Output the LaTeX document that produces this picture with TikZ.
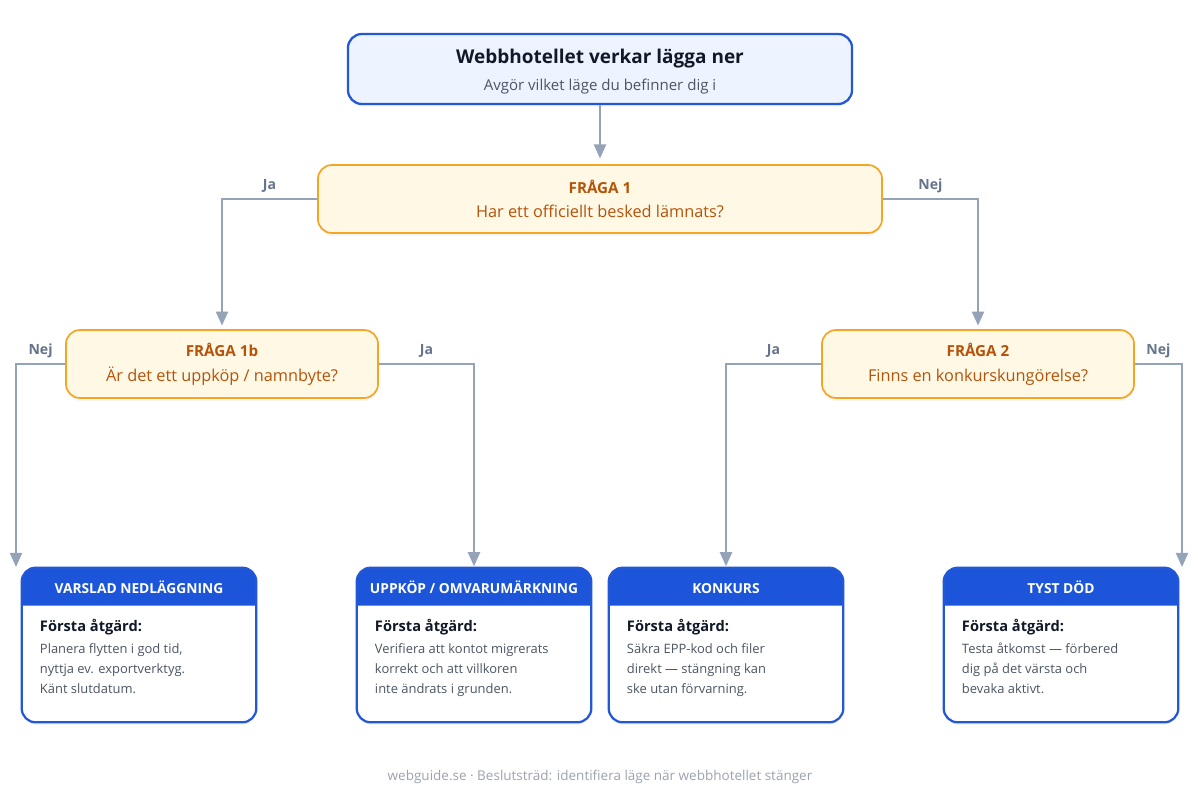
\documentclass[tikz,border=0pt]{standalone}
\usepackage{fontspec}
\setmainfont{Open Sans}
\usepackage{tikz}
\usetikzlibrary{arrows.meta}
\usetikzlibrary{shadows, positioning}

\definecolor{bluebrd}{HTML}{2257D6}
\definecolor{bluefill}{HTML}{EEF4FF}
\definecolor{hdrblue}{HTML}{1C55D9}
\definecolor{titlecol}{HTML}{111827}
\definecolor{subgray}{HTML}{4B5563}
\definecolor{orangebrd}{HTML}{F5A524}
\definecolor{creamfill}{HTML}{FFF8E5}
\definecolor{qbrown}{HTML}{B45309}
\definecolor{conngray}{HTML}{94A3B8}
\definecolor{labgray}{HTML}{64748B}
\definecolor{footgray}{HTML}{9CA3AF}

\newcommand{\fragatag}[1]{{\fontsize{10.8}{12}\selectfont\bfseries #1}}

\begin{document}
\begin{tikzpicture}[x=0.025cm, y=-0.025cm,
    softshadow/.style={drop shadow={opacity=0.07, shadow xshift=0pt, shadow yshift=-2pt}},
    startbox/.style={draw=bluebrd, fill=bluefill, line width=1.6pt, rounded corners=0.35cm,
        minimum width=12.6cm, minimum height=1.75cm, softshadow},
    qbox/.style={draw=orangebrd, fill=creamfill, line width=1.2pt, rounded corners=0.35cm,
        minimum height=1.7cm, align=center, text=qbrown, softshadow,
        font=\fontsize{11.6}{17.5}\selectfont},
    resbox/.style={fill=white, rounded corners=0.35cm, minimum width=5.85cm,
        minimum height=3.85cm, softshadow},
    resborder/.style={draw=bluebrd, line width=1.6pt, rounded corners=0.35cm},
    reshead/.style={anchor=base, text=white, font=\fontsize{9.8}{12}\selectfont\bfseries},
    resbody/.style={anchor=north west, inner sep=0pt, align=left, text=subgray,
        font=\fontsize{9.2}{14.2}\selectfont},
    conn/.style={draw=conngray, line width=1.6pt, -{Triangle[length=10pt,width=8.5pt]}},
    lab/.style={above=0.5pt, text=labgray, font=\fontsize{10}{12}\selectfont\bfseries},
  ]
  \useasboundingbox[fill=white] (0,0) rectangle (1200,804);

  % start and questions
  \node[startbox] (start) at (600,69) {};
  \node[anchor=base, text=titlecol, font=\fontsize{13.5}{16}\selectfont\bfseries] (title)
    at (600,63.5) {Webbhotellet verkar lägga ner};
  \node[anchor=base, text=subgray, font=\fontsize{10.7}{13}\selectfont] (subtitle)
    at (600,90) {Avgör vilket läge du befinner dig i};
  \node[qbox, minimum width=14.1cm] (q1) at (600,199)
    {\fragatag{FRÅGA 1}\\Har ett officiellt besked lämnats?};
  \node[qbox, minimum width=7.8cm] (q1b) at (222,364)
    {\fragatag{FRÅGA 1b}\\Är det ett uppköp / namnbyte?};
  \node[qbox, minimum width=7.8cm] (q2) at (978,364)
    {\fragatag{FRÅGA 2}\\Finns en konkurskungörelse?};

  % outcomes
  \foreach \n/\x/\head/\body in {
      r1/139/{VARSLAD NEDLÄGGNING}/{Planera flytten i god tid,\\nyttja ev. exportverktyg.\\Känt slutdatum.},
      r2/474/{UPPKÖP / OMVARUMÄRKNING}/{Verifiera att kontot migrerats\\korrekt och att villkoren\\inte ändrats i grunden.},
      r3/726/{KONKURS}/{Säkra EPP-kod och filer\\direkt — stängning kan\\ske utan förvarning.},
      r4/1061/{TYST DÖD}/{Testa åtkomst — förbered\\dig på det värsta och\\bevaka aktivt.}} {
    \node[resbox] (\n) at (\x,645) {};
    \fill[hdrblue] ([yshift=-0.95cm]\n.north west) -- ([yshift=-0.35cm]\n.north west)
      arc[start angle=180, end angle=90, radius=0.35cm] -- ([xshift=-0.35cm]\n.north east)
      arc[start angle=90, end angle=0, radius=0.35cm] -- ([yshift=-0.95cm]\n.north east) -- cycle;
    \draw[resborder] (\n.south west) rectangle (\n.north east);
    \node[reshead] (\n-head) at ([yshift=-0.65cm]\n.north) {\head};
    \node[resbody] (\n-body) at ([xshift=0.45cm, yshift=-1.28cm]\n.north west)
      {{\color{titlecol}\fontsize{10.4}{14.2}\selectfont\bfseries Första åtgärd:}\\[1.5pt]\body};
  }

  \coordinate (e1) at (16,567);
  \coordinate (e4) at (1182,567);

  % connectors
  \draw[conn, shorten >=4pt] (start) -- (q1);
  \draw[conn, shorten >=2.5pt] (q1.west) -| node[lab, pos=0.25] {Ja} (q1b.north);
  \draw[conn, shorten >=2.5pt] (q1.east) -| node[lab, pos=0.25] {Nej} (q2.north);
  \draw[conn] (q1b.west) -| node[lab, pos=0.25] {Nej} (e1);
  \draw[conn, shorten >=1pt] (q1b.east) -| node[lab, pos=0.25] {Ja} (r2.north);
  \draw[conn, shorten >=1pt] (q2.west) -| node[lab, pos=0.25] {Ja} (r3.north);
  \draw[conn] (q2.east) -| node[lab, pos=0.25] {Nej} (e4);

  \node[text=footgray, font=\fontsize{9.6}{11}\selectfont] (foot) at (600,777)
    {webguide.se · Beslutsträd: identifiera läge när webbhotellet stänger};
\end{tikzpicture}
\end{document}
